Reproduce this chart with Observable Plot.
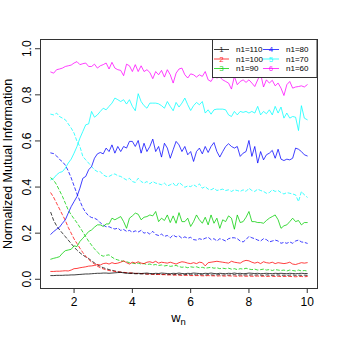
<!DOCTYPE html>
<html><head><meta charset="utf-8">
<script src="https://cdn.jsdelivr.net/npm/d3@7"></script>
<script src="https://cdn.jsdelivr.net/npm/@observablehq/plot@0.6"></script>
<style>body{margin:0;background:#fff}#chart{width:338px;height:338px}</style>
</head><body><div id="chart"></div>
<script>
const wn = [1.2,1.3,1.4,1.5,1.6,1.7,1.8,1.9,2.0,2.1,
2.2,2.3,2.4,2.5,2.6,2.7,2.8,2.9,3.0,3.1,
3.2,3.3,3.4,3.5,3.6,3.7,3.8,3.9,4.0,4.1,
4.2,4.3,4.4,4.5,4.6,4.7,4.8,4.9,5.0,5.1,
5.2,5.3,5.4,5.5,5.6,5.7,5.8,5.9,6.0,6.1,
6.2,6.3,6.4,6.5,6.6,6.7,6.8,6.9,7.0,7.1,
7.2,7.3,7.4,7.5,7.6,7.7,7.8,7.9,8.0,8.1,
8.2,8.3,8.4,8.5,8.6,8.7,8.8,8.9,9.0,9.1,
9.2,9.3,9.4,9.5,9.6,9.7,9.8,9.9,10.0];

const seriesNames = ["n1=110","n1=100","n1=90","n1=80","n1=70","n1=60"];
const seriesSymbols = ["1","2","3","4","5","6"];
const seriesColors = ["#000000","#ff0000","#00cd00","#0000ff","#00ffff","#ff00ff"];

const solid60 = [0.899,0.894,0.909,0.912,0.916,0.923,0.926,0.929,0.938,0.944,
0.931,0.935,0.938,0.923,0.923,0.933,0.916,0.926,0.931,0.938,
0.912,0.941,0.916,0.909,0.906,0.883,0.933,0.926,0.901,0.931,
0.901,0.926,0.901,0.909,0.897,0.870,0.901,0.887,0.906,0.877,
0.909,0.887,0.851,0.894,0.912,0.916,0.887,0.873,0.891,0.887,
0.877,0.887,0.880,0.901,0.865,0.858,0.880,0.873,0.877,0.865,
0.858,0.851,0.825,0.880,0.844,0.858,0.865,0.854,0.865,0.851,
0.836,0.865,0.891,0.834,0.865,0.851,0.863,0.839,0.851,0.829,
0.797,0.844,0.858,0.829,0.834,0.836,0.839,0.834,0.844];

const solid70 = [0.431,0.438,0.453,0.463,0.467,0.482,0.504,0.521,0.547,0.576,
0.612,0.641,0.670,0.674,0.728,0.703,0.713,0.728,0.742,0.735,
0.750,0.764,0.786,0.779,0.771,0.779,0.760,0.779,0.750,0.731,
0.805,0.771,0.753,0.742,0.764,0.764,0.764,0.761,0.753,0.742,
0.771,0.750,0.731,0.767,0.747,0.764,0.786,0.757,0.732,0.753,
0.767,0.757,0.771,0.721,0.735,0.716,0.735,0.738,0.738,0.738,
0.735,0.713,0.706,0.728,0.713,0.728,0.724,0.728,0.721,0.728,
0.721,0.750,0.713,0.728,0.718,0.735,0.713,0.750,0.721,0.747,
0.699,0.721,0.699,0.706,0.703,0.645,0.753,0.699,0.692];

const solid80 = [0.195,0.207,0.217,0.226,0.243,0.258,0.287,0.315,0.337,0.359,
0.395,0.438,0.446,0.475,0.489,0.525,0.544,0.550,0.544,0.569,
0.554,0.583,0.547,0.576,0.554,0.576,0.569,0.598,0.598,0.576,
0.602,0.547,0.590,0.554,0.576,0.608,0.554,0.576,0.530,0.590,
0.569,0.525,0.562,0.598,0.583,0.554,0.576,0.540,0.554,0.511,
0.554,0.569,0.544,0.576,0.550,0.576,0.593,0.554,0.530,0.554,
0.576,0.588,0.576,0.569,0.576,0.533,0.547,0.554,0.602,0.533,
0.576,0.504,0.554,0.518,0.540,0.547,0.559,0.525,0.564,0.521,
0.515,0.521,0.518,0.525,0.569,0.564,0.554,0.540,0.535];

const solid90 = [0.087,0.091,0.094,0.098,0.113,0.124,0.127,0.130,0.145,0.142,
0.164,0.178,0.192,0.207,0.214,0.226,0.236,0.236,0.229,0.240,
0.240,0.265,0.258,0.265,0.272,0.250,0.221,0.265,0.275,0.287,
0.282,0.258,0.269,0.272,0.279,0.275,0.294,0.250,0.265,0.255,
0.279,0.246,0.275,0.243,0.289,0.250,0.250,0.265,0.229,0.250,
0.279,0.258,0.243,0.269,0.236,0.279,0.243,0.265,0.221,0.258,
0.250,0.275,0.265,0.217,0.279,0.246,0.250,0.269,0.294,0.250,
0.250,0.246,0.246,0.243,0.255,0.265,0.272,0.279,0.258,0.221,
0.232,0.236,0.250,0.265,0.250,0.255,0.236,0.246,0.246];

const solid100 = [0.034,0.034,0.035,0.035,0.036,0.037,0.036,0.040,0.046,0.047,
0.050,0.052,0.054,0.057,0.058,0.060,0.064,0.062,0.068,0.070,
0.066,0.072,0.068,0.070,0.074,0.080,0.072,0.066,0.074,0.070,
0.076,0.070,0.068,0.074,0.076,0.072,0.078,0.070,0.074,0.072,
0.070,0.074,0.070,0.066,0.072,0.076,0.074,0.070,0.068,0.072,
0.068,0.074,0.072,0.058,0.072,0.074,0.076,0.078,0.076,0.074,
0.072,0.070,0.078,0.074,0.072,0.070,0.078,0.082,0.080,0.074,
0.070,0.074,0.068,0.076,0.072,0.070,0.074,0.068,0.072,0.070,
0.068,0.070,0.074,0.066,0.064,0.068,0.072,0.070,0.072];

const solid110 = [0.016,0.016,0.017,0.017,0.017,0.018,0.018,0.019,0.019,0.020,
0.021,0.022,0.023,0.023,0.024,0.025,0.026,0.026,0.027,0.027,
0.026,0.027,0.028,0.029,0.030,0.028,0.027,0.026,0.027,0.025,
0.026,0.025,0.026,0.027,0.025,0.024,0.026,0.025,0.027,0.026,
0.025,0.024,0.026,0.025,0.027,0.025,0.024,0.026,0.025,0.027,
0.026,0.025,0.024,0.026,0.025,0.027,0.025,0.024,0.026,0.025,
0.024,0.026,0.025,0.027,0.025,0.026,0.024,0.025,0.027,0.026,
0.025,0.026,0.024,0.025,0.026,0.025,0.024,0.026,0.025,0.026,
0.025,0.024,0.026,0.025,0.024,0.025,0.026,0.025,0.025];

const dashed70 = [0.716,0.713,0.721,0.706,0.699,0.692,0.674,0.656,0.634,0.598,
0.576,0.533,0.518,0.504,0.489,0.475,0.467,0.467,0.453,0.446,
0.446,0.453,0.457,0.449,0.446,0.438,0.431,0.438,0.424,0.420,
0.438,0.424,0.417,0.424,0.414,0.424,0.417,0.414,0.410,0.417,
0.405,0.410,0.417,0.402,0.420,0.410,0.399,0.405,0.402,0.410,
0.402,0.414,0.395,0.402,0.391,0.388,0.395,0.385,0.388,0.391,
0.385,0.388,0.381,0.388,0.385,0.381,0.388,0.381,0.395,0.385,
0.381,0.391,0.385,0.381,0.373,0.376,0.388,0.381,0.385,0.376,
0.370,0.376,0.373,0.370,0.366,0.337,0.381,0.366,0.356];

const dashed80 = [0.548,0.545,0.535,0.520,0.510,0.495,0.470,0.440,0.405,0.370,
0.340,0.310,0.290,0.275,0.268,0.265,0.258,0.245,0.235,0.228,
0.228,0.222,0.218,0.222,0.212,0.216,0.208,0.212,0.204,0.210,
0.205,0.212,0.200,0.204,0.196,0.208,0.194,0.190,0.196,0.186,
0.190,0.180,0.192,0.184,0.188,0.178,0.184,0.178,0.182,0.172,
0.170,0.176,0.172,0.178,0.182,0.172,0.176,0.166,0.176,0.172,
0.166,0.176,0.180,0.180,0.176,0.166,0.162,0.172,0.186,0.180,
0.176,0.170,0.166,0.176,0.172,0.162,0.166,0.170,0.166,0.156,
0.160,0.156,0.162,0.156,0.166,0.170,0.162,0.160,0.156];

const dashed90 = [0.440,0.430,0.410,0.385,0.360,0.330,0.300,0.280,0.262,0.245,
0.225,0.205,0.185,0.165,0.148,0.132,0.118,0.106,0.100,0.104,
0.106,0.096,0.088,0.084,0.080,0.078,0.076,0.072,0.070,0.068,
0.070,0.066,0.068,0.064,0.066,0.062,0.064,0.060,0.062,0.058,
0.060,0.056,0.058,0.060,0.055,0.052,0.054,0.050,0.054,0.052,
0.054,0.050,0.052,0.048,0.050,0.052,0.048,0.050,0.046,0.048,
0.046,0.048,0.044,0.046,0.042,0.046,0.044,0.048,0.044,0.042,
0.044,0.040,0.042,0.044,0.040,0.042,0.038,0.042,0.040,0.038,
0.040,0.036,0.040,0.038,0.036,0.040,0.036,0.038,0.036];

const dashed100 = [0.375,0.355,0.330,0.305,0.280,0.255,0.225,0.200,0.175,0.155,
0.135,0.116,0.100,0.086,0.075,0.066,0.057,0.050,0.045,0.041,
0.038,0.036,0.034,0.032,0.031,0.030,0.029,0.028,0.027,0.026,
0.025,0.025,0.024,0.023,0.022,0.022,0.021,0.021,0.020,0.020,
0.019,0.019,0.018,0.018,0.018,0.017,0.017,0.017,0.016,0.016,
0.016,0.016,0.015,0.015,0.016,0.015,0.015,0.014,0.015,0.014,
0.014,0.015,0.014,0.014,0.013,0.014,0.014,0.013,0.014,0.013,
0.013,0.014,0.013,0.013,0.012,0.013,0.013,0.012,0.013,0.012,
0.012,0.013,0.012,0.012,0.011,0.012,0.012,0.011,0.012];

const dashed110 = [0.290,0.255,0.232,0.215,0.200,0.185,0.170,0.155,0.140,0.126,
0.115,0.105,0.097,0.090,0.080,0.071,0.063,0.056,0.050,0.046,
0.042,0.039,0.036,0.033,0.031,0.029,0.027,0.026,0.025,0.024,
0.024,0.023,0.024,0.022,0.023,0.022,0.021,0.022,0.021,0.021,
0.020,0.021,0.020,0.021,0.020,0.019,0.020,0.021,0.019,0.020,
0.019,0.020,0.019,0.018,0.020,0.019,0.018,0.019,0.020,0.018,
0.019,0.018,0.019,0.020,0.018,0.019,0.018,0.019,0.018,0.019,
0.018,0.019,0.018,0.017,0.019,0.018,0.017,0.018,0.019,0.017,
0.018,0.017,0.018,0.019,0.017,0.018,0.017,0.018,0.017];

const xTicks = [2,4,6,8,10];
const yTicks = [0,0.2,0.4,0.6,0.8,1.0];
const yTickLabels = ["0.0","0.2","0.4","0.6","0.8","1.0"];
const yLabel = "Normalized Mutual Information";

const solids = [solid110, solid100, solid90, solid80, solid70, solid60];
const dashes = [dashed110, dashed100, dashed90, dashed80, dashed70];
const solidRows = solids.flatMap((arr,k)=>arr.map((v,i)=>({x:wn[i], y:v, s:seriesNames[k]})));
const dashRows = dashes.flatMap((arr,k)=>arr.map((v,i)=>({x:wn[i], y:v, s:seriesNames[k]})));

const font = "'Liberation Sans', Arial, Helvetica, sans-serif";
const plot = Plot.plot({
  width: 338, height: 338,
  marginLeft: 40, marginRight: 21, marginTop: 39, marginBottom: 50,
  x: {domain: [0.848, 10.352]},
  y: {domain: [-0.04, 1.04]},
  color: {domain: seriesNames, range: seriesColors},
  style: {fontFamily: font, fontSize: "12px", background: "#fff", color: "#000", overflow: "visible"},
  marks: [
    Plot.axisX({ticks: xTicks, tickSize: 5, tickPadding: 4, fontSize: 12, label: null, stroke: "#333"}),
    Plot.axisY({ticks: yTicks, tickSize: 5, tickFormat: () => "", label: null, stroke: "#333"}),
    Plot.text(yTicks, {y: d => d, text: (d,i) => yTickLabels[i], frameAnchor: "left", textAnchor: "middle", dx: -13, rotate: -90, fontSize: 12, fill: "#000"}),
    Plot.text([yLabel], {frameAnchor: "left", textAnchor: "middle", dx: -33, rotate: -90, fontSize: 12.5, fill: "#000"}),
    Plot.lineY(dashRows, {x: "x", y: "y", z: "s", stroke: "s", strokeWidth: 1, strokeDasharray: "3,2.5", strokeOpacity: 0.75}),
    Plot.lineY(solidRows, {x: "x", y: "y", z: "s", stroke: "s", strokeWidth: 1, strokeOpacity: 0.75}),
    Plot.frame({stroke: "#333"})
  ]
});
document.getElementById("chart").appendChild(plot);

// x-axis title with subscript
const svg = d3.select(plot);
const xt = svg.append("text").attr("x", 178.5).attr("y", 322).attr("text-anchor", "middle")
  .attr("font-family", font).attr("font-size", 13).attr("fill", "#000");
xt.append("tspan").text("w");
xt.append("tspan").attr("font-size", 9.5).attr("dy", 3).text("n");

// legend
const lg = svg.append("g").attr("font-family", font).attr("font-size", 8).attr("text-anchor", "start");
lg.append("rect").attr("x", 212.5).attr("y", 39.5).attr("width", 104.5).attr("height", 38)
  .attr("fill", "#fff").attr("stroke", "#333");
const rowsY = [49.5, 59, 68.5];
const colX = [[214, 229, 221.5, 236], [263, 279, 271, 286]];
seriesNames.forEach((name, k) => {
  const c = Math.floor(k / 3), r = k % 3;
  const [x0, x1, xs, xtxt] = colX[c];
  const y = rowsY[r];
  lg.append("line").attr("x1", x0).attr("x2", x1).attr("y1", y).attr("y2", y)
    .attr("stroke", seriesColors[k]).attr("stroke-opacity", 0.75);
  lg.append("text").attr("x", xs).attr("y", y).attr("dy", "0.35em").attr("text-anchor", "middle")
    .attr("fill", seriesColors[k]).attr("fill-opacity", 0.85).text(seriesSymbols[k]);
  lg.append("text").attr("x", xtxt).attr("y", y).attr("dy", "0.35em").attr("text-anchor", "start")
    .attr("fill", "#000").text(name);
});
</script>
</body></html>
